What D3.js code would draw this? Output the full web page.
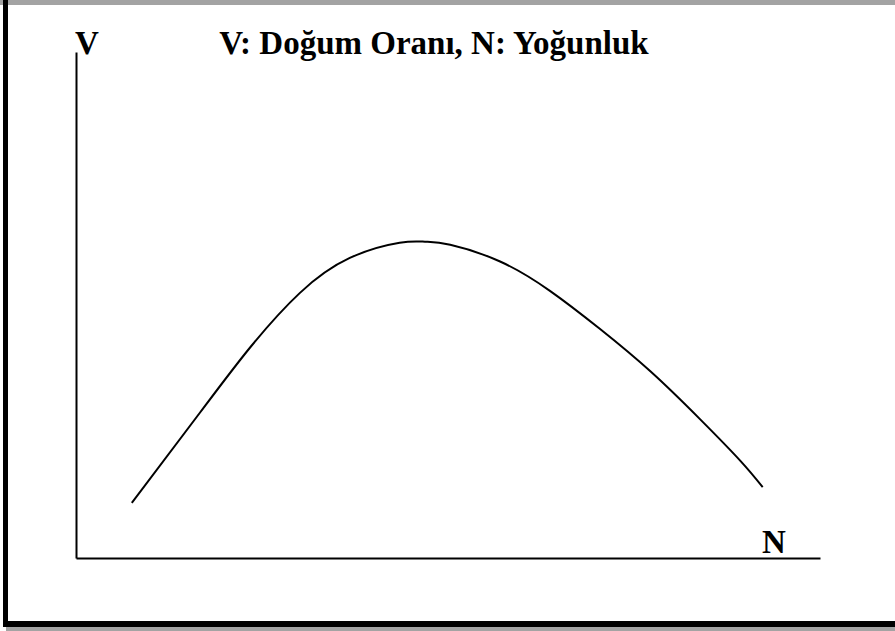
<!DOCTYPE html>
<html>
<head>
<meta charset="utf-8">
<script src="https://cdn.jsdelivr.net/npm/d3@7"></script>
<style>
  body { margin: 0; background: #fff; }
  svg { display: block; }
  .axis path { stroke: #000; stroke-width: 2; }
</style>
</head>
<body>
<div id="chart"></div>
<script>
// curve (N = density, V = birth rate), 0..100 units
var nValues = [7.5, 16.7, 23.4, 30.1, 36.8, 43.5, 46.9, 50.3, 57.0, 63.7, 70.4, 77.2, 83.9, 89.3, 92.3];
var vValues = [10.9, 28.8, 41.6, 52.4, 59.3, 62.3, 62.5, 61.9, 58.6, 52.8, 45.3, 36.9, 27.4, 19.2, 14.0];
var titleText = 'V: Doğum Oranı, N: Yoğunluk';
var xLabel = 'N';
var yLabel = 'V';

var W = 895, H = 631;

var svg = d3.select('#chart').append('svg')
    .attr('width', W)
    .attr('height', H);

// frame: gray top band, thick black left + bottom, gray shadow
svg.append('rect').attr('x', 0).attr('y', 0).attr('width', W).attr('height', 5).attr('fill', '#a3a3a3');
svg.append('rect').attr('x', 6).attr('y', 627).attr('width', W - 6).attr('height', 4).attr('fill', '#a3a3a3');
svg.append('rect').attr('x', 3).attr('y', 0).attr('width', 5).attr('height', 627).attr('fill', '#000');
svg.append('rect').attr('x', 3).attr('y', 621).attr('width', W - 3).attr('height', 6).attr('fill', '#000');

var x = d3.scaleLinear()
    .domain([0, 100])
    .range([76, 820]);
var y = d3.scaleLinear()
    .domain([0, 100])
    .range([558, 52]);

svg.append('g')
    .attr('class', 'axis')
    .attr('transform', `translate(0,${y(0)})`)
    .call(d3.axisBottom(x).ticks(0).tickSizeOuter(0));

svg.append('g')
    .attr('class', 'axis')
    .attr('transform', `translate(${x(0)},0)`)
    .call(d3.axisLeft(y).ticks(0).tickSizeOuter(0));

var line = d3.line()
    .x((d, i) => x(nValues[i]))
    .y((d) => y(d))
    .curve(d3.curveNatural);

svg.append('path')
    .attr('d', line(vValues))
    .attr('fill', 'none')
    .attr('stroke', '#000')
    .attr('stroke-width', 2);

var fontFam = '"Liberation Serif", "Times New Roman", serif';

svg.append('text')
    .attr('x', 75).attr('y', 54)
    .attr('font-family', fontFam)
    .attr('font-weight', 'bold')
    .attr('font-size', 33)
    .text(yLabel);

svg.append('text')
    .attr('x', 434).attr('y', 54)
    .attr('text-anchor', 'middle')
    .attr('font-family', fontFam)
    .attr('font-weight', 'bold')
    .attr('font-size', 33)
    .text(titleText);

svg.append('text')
    .attr('x', 762).attr('y', 553)
    .attr('font-family', fontFam)
    .attr('font-weight', 'bold')
    .attr('font-size', 33)
    .text(xLabel);
</script>
</body>
</html>
